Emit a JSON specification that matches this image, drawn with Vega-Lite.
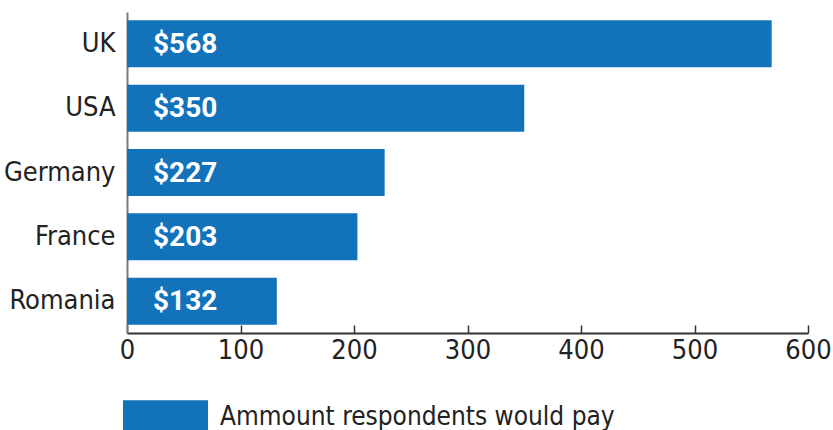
{
  "$schema": "https://vega.github.io/schema/vega-lite/v6.json",
  "width": 681,
  "height": 321,
  "autosize": {"type": "none"},
  "padding": {"left": 127, "top": 12, "right": 25, "bottom": 97},
  "background": "white",
  "config": {
    "view": {"stroke": null},
    "font": "DejaVu Sans Condensed, Roboto, sans-serif"
  },
  "data": {
    "values": [
      {"country": "UK", "amount": 568, "series": "Ammount respondents would pay"},
      {"country": "USA", "amount": 350, "series": "Ammount respondents would pay"},
      {"country": "Germany", "amount": 227, "series": "Ammount respondents would pay"},
      {"country": "France", "amount": 203, "series": "Ammount respondents would pay"},
      {"country": "Romania", "amount": 132, "series": "Ammount respondents would pay"}
    ]
  },
  "encoding": {
    "y": {
      "field": "country",
      "type": "nominal",
      "sort": null,
      "title": null,
      "scale": {"paddingInner": 0.27, "paddingOuter": 0.13},
      "axis": {
        "ticks": false,
        "domainColor": "#7a7a7a",
        "domainWidth": 2,
        "labelFont": "DejaVu Sans Condensed, Roboto, sans-serif",
        "labelFontSize": 27,
        "labelColor": "#222222",
        "labelPadding": 12
      }
    }
  },
  "layer": [
    {
      "mark": {"type": "bar", "color": "#1273BB"},
      "encoding": {
        "x": {
          "field": "amount",
          "type": "quantitative",
          "title": null,
          "scale": {"domain": [0, 600], "nice": false},
          "axis": {
            "values": [0, 100, 200, 300, 400, 500, 600],
            "grid": false,
            "domainColor": "#333333",
            "domainWidth": 2,
            "tickColor": "#333333",
            "tickWidth": 1.5,
            "tickSize": -8,
            "labelFont": "DejaVu Sans Condensed, Roboto, sans-serif",
            "labelFontSize": 27,
            "labelColor": "#222222",
            "labelPadding": 12,
            "labelFlush": false
          }
        },
        "fill": {
          "field": "series",
          "type": "nominal",
          "scale": {"range": ["#1273BB"]},
          "legend": {
            "title": null,
            "orient": "none",
            "legendX": -4,
            "legendY": 362,
            "symbolType": "M-1,-0.38H1V0.38H-1Z",
            "symbolSize": 7225,
            "symbolStrokeWidth": 0,
            "labelFont": "DejaVu Sans Condensed, Roboto, sans-serif",
            "labelFontSize": 26,
            "labelColor": "#222222",
            "labelOffset": 12,
            "labelLimit": 600
          }
        }
      }
    },
    {
      "mark": {
        "type": "text",
        "align": "left",
        "baseline": "middle",
        "dx": 26,
        "dy": 1,
        "font": "Roboto",
        "fontWeight": "bold",
        "fontSize": 28,
        "color": "white"
      },
      "encoding": {
        "x": {"datum": 0, "type": "quantitative"},
        "text": {"field": "amount", "type": "quantitative", "format": "$d"}
      }
    }
  ]
}
